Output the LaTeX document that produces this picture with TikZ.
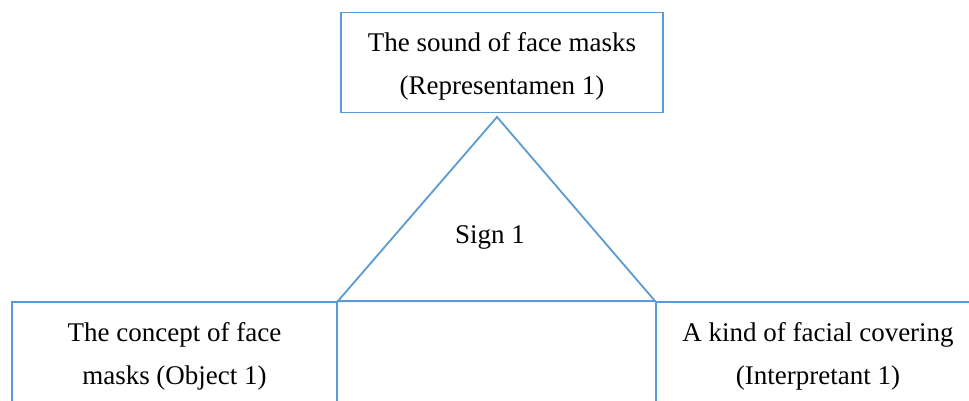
\documentclass[tikz,border=0pt]{standalone}
\usepackage{fontspec}
\setmainfont{Liberation Serif}
\usetikzlibrary{positioning}
\definecolor{lineblue}{RGB}{91,155,213}

\tikzset{
    cell/.style={draw=lineblue, line width=1.8pt, rectangle, align=center,
        font=\fontsize{27}{43}\selectfont},
    signline/.style={draw=lineblue, line width=1.8pt, line join=miter}
}

\begin{document}
\begin{tikzpicture}[x=1pt, y=1pt]

    \useasboundingbox (0,0) rectangle (969,400);
    \clip (0,0) rectangle (969,400);

    %nodes
    \node[cell, minimum width=322, minimum height=100] (rep) at (502,337.5) {};
    \node[cell, draw=none] (reptext) at (502,333.5)
        {The sound of face masks\\(Representamen 1)};
    \node[cell, minimum width=325, minimum height=108] (obj) at (174.5,44)
        {The concept of face\\masks (Object 1)};
    \node[cell, minimum width=324, minimum height=108] (int) at (818,44)
        {A kind of facial covering\\(Interpretant 1)};
    \node[font=\fontsize{27}{43}\selectfont] (sign) at (490,163) {Sign 1};

    % triangle corners
    \coordinate (apex) at (497,283);
    \coordinate (left) at (obj.north east);
    \coordinate (right) at (int.north west);

    % edges
    \draw[signline] (left) -- (apex) -- (right) -- cycle;

\end{tikzpicture}
\end{document}
